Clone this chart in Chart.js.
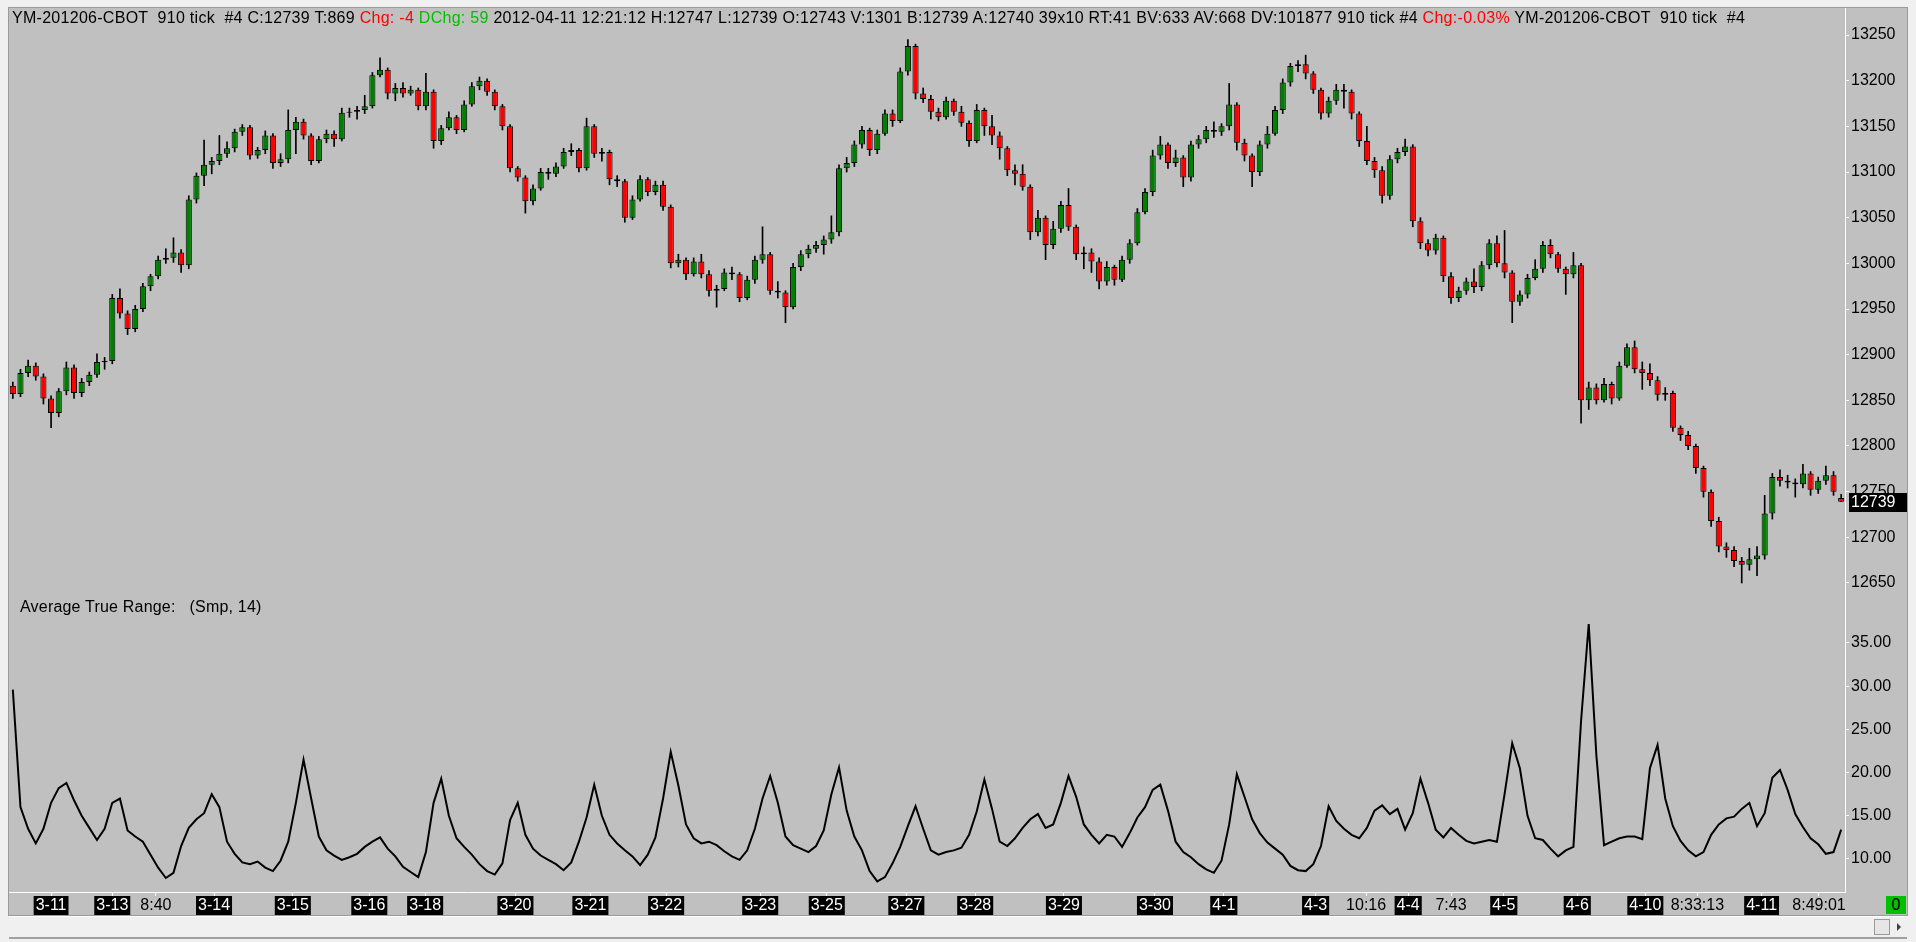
<!DOCTYPE html>
<html lang="en">
<head>
<meta charset="UTF-8">
<title>YM-201206-CBOT 910 tick</title>
<script src="https://cdn.jsdelivr.net/npm/chart.js"></script>
<style>
  html, body { margin: 0; padding: 0; width: 1916px; height: 942px; overflow: hidden; background: #f0f0f0; font-family: "Liberation Sans", Arial, sans-serif; }
  #frame { position: absolute; left: 8px; top: 7px; width: 1900px; height: 909px; border: 1px solid #9a9a9a; box-sizing: border-box; background: #c0c0c0; }
  #frame canvas { position: absolute; left: 0; }
  #priceChart { top: 0; }
  #atrChart { top: 598px; }
  .txt { position: absolute; font-size: 16px; line-height: 18px; color: #000; white-space: pre; z-index: 2; }
  #header { left: 3px; top: 1px; letter-spacing: 0.28px; }
  #atrLabel { left: 11px; top: 590px; letter-spacing: 0.2px; }
  .red { color: #ff0000; }
  .green { color: #00c000; }
  #zero { left: 1877px; top: 888px; width: 20px; height: 18px; background: #00c000; text-align: center; }
  #scroll { position: absolute; left: 9px; top: 916px; width: 1898px; height: 20px; background: #f0f0f0; border-top: 1px solid #fff; border-bottom: 2px solid #a0a0a0; }
  #thumb { position: absolute; left: 1865px; top: 2px; width: 14px; height: 14px; background: #e6e6e6; border: 1px solid #9a9a9a; }
  #arrow { position: absolute; left: 1888px; top: 6px; width: 0; height: 0; border-top: 4px solid transparent; border-bottom: 4px solid transparent; border-left: 4px solid #404040; }
</style>
</head>
<body>
<div id="frame">
  <div id="header" class="txt">YM-201206-CBOT  910 tick  #4 C:12739 T:869 <span class="red">Chg: -4</span> <span class="green">DChg: 59</span> 2012-04-11 12:21:12 H:12747 L:12739 O:12743 V:1301 B:12739 A:12740 39x10 RT:41 BV:633 AV:668 DV:101877 910 tick #4 <span class="red">Chg:-0.03%</span> YM-201206-CBOT  910 tick  #4</div>
  <div id="atrLabel" class="txt">Average True Range:   (Smp, 14)</div>
  <canvas id="priceChart" width="1898" height="598"></canvas>
  <canvas id="atrChart" width="1898" height="309"></canvas>
  <div id="zero" class="txt">0</div>
</div>
<div id="scroll"><div id="thumb"></div><div id="arrow"></div></div>

<script>
// 910 tick bars, oldest first
const open = [
12866,12857,12880,12888,12876,12852,12836,12860,12886,12858,
12870,12878,12892,12893,12962,12945,12928,12950,12975,12986,
13004,13006,13012,12998,13070,13096,13108,13112,13120,13126,
13144,13149,13118,13124,13140,13110,13114,13146,13155,13140,
13112,13136,13142,13136,13165,13166,13168,13172,13206,13212,
13186,13192,13186,13190,13172,13188,13134,13148,13160,13146,
13174,13194,13200,13188,13172,13150,13104,13094,13068,13082,
13100,13098,13106,13122,13124,13104,13150,13120,13122,13092,
13090,13050,13070,13092,13078,13086,13062,13000,13004,12988,
13002,12988,12970,12972,12990,12988,12962,12982,13004,13010,
12970,12968,12952,12996,13010,13016,13020,13026,13034,13104,
13110,13130,13146,13124,13142,13164,13156,13210,13238,13186,
13180,13166,13160,13178,13166,13154,13134,13168,13150,13140,
13126,13102,13098,13084,13034,13050,13020,13038,13064,13040,
13010,13012,13002,12980,12996,12982,13004,13022,13056,13078,
13118,13130,13110,13116,13094,13130,13136,13146,13144,13150,
13174,13132,13118,13100,13130,13142,13168,13198,13216,13218,
13208,13190,13164,13178,13190,13188,13164,13134,13112,13102,
13074,13114,13122,13128,13046,13022,13014,13028,12986,12962,
12970,12980,12974,12998,13022,13000,12990,12958,12966,12984,
12994,13020,13010,12994,12988,12998,12850,12864,12850,12868,
12852,12888,12908,12884,12880,12872,12856,12858,12820,12812,
12800,12776,12750,12718,12690,12686,12674,12670,12676,12680,
12726,12766,12762,12760,12758,12770,12752,12762,12768,12743
];
const high = [
12870,12884,12894,12891,12879,12855,12863,12892,12889,12874,
12881,12901,12897,12966,12972,12948,12954,12978,12988,13008,
13016,13028,13015,13074,13099,13135,13116,13140,13133,13147,
13152,13151,13127,13145,13142,13120,13168,13160,13158,13142,
13139,13146,13145,13170,13170,13172,13184,13209,13225,13214,
13197,13198,13194,13192,13208,13190,13151,13166,13162,13178,
13198,13204,13202,13190,13174,13152,13106,13096,13086,13104,
13104,13110,13126,13131,13126,13159,13152,13126,13124,13096,
13092,13074,13096,13094,13090,13090,13064,13010,13006,13006,
13010,12992,12976,12994,12996,12990,12986,13008,13040,13012,
12980,12970,13000,13014,13020,13024,13030,13052,13108,13116,
13134,13150,13148,13146,13168,13168,13214,13245,13240,13192,
13184,13170,13182,13180,13172,13156,13174,13170,13162,13144,
13128,13108,13108,13086,13058,13052,13046,13068,13082,13042,
13018,13016,13006,13002,12998,13008,13026,13060,13082,13124,
13139,13132,13124,13118,13134,13140,13150,13155,13153,13197,
13176,13136,13120,13134,13150,13172,13202,13219,13222,13228,
13210,13192,13182,13196,13196,13190,13166,13150,13116,13106,
13118,13126,13136,13130,13050,13026,13032,13030,12990,12974,
12984,12994,13002,13026,13030,13036,12992,12970,12988,13004,
13024,13026,13012,12996,13012,13000,12870,12868,12874,12870,
12892,12912,12915,12892,12890,12876,12864,12860,12822,12816,
12802,12778,12752,12722,12694,12690,12678,12688,12690,12746,
12770,12774,12768,12764,12780,12772,12766,12778,12772,12747
];
const low = [
12852,12854,12876,12872,12846,12820,12832,12856,12852,12854,
12866,12875,12884,12890,12940,12922,12925,12947,12970,12983,
13000,13001,12990,12994,13066,13085,13098,13108,13116,13122,
13140,13114,13115,13120,13104,13106,13110,13120,13136,13108,
13110,13132,13128,13134,13160,13158,13164,13170,13204,13180,
13178,13182,13184,13168,13168,13126,13130,13146,13142,13144,
13172,13190,13184,13168,13146,13100,13090,13055,13064,13080,
13092,13095,13104,13118,13100,13102,13116,13112,13086,13084,
13045,13048,13068,13074,13075,13058,12995,12996,12982,12986,
12984,12964,12952,12970,12982,12958,12960,12978,13000,12966,
12962,12935,12950,12992,13006,13012,13010,13022,13030,13100,
13106,13126,13118,13120,13140,13150,13154,13206,13180,13176,
13158,13156,13158,13162,13150,13128,13132,13140,13130,13114,
13096,13086,13080,13026,13030,13004,13016,13034,13036,13004,
12994,12990,12972,12976,12976,12980,13000,13020,13054,13074,
13114,13104,13106,13084,13090,13126,13132,13138,13140,13146,
13124,13112,13084,13096,13126,13140,13164,13194,13210,13202,
13186,13158,13160,13174,13170,13158,13128,13108,13094,13066,
13070,13110,13118,13040,13016,13008,13010,12980,12956,12958,
12966,12968,12970,12994,12996,12984,12935,12954,12962,12982,
12990,13006,12990,12966,12984,12825,12840,12846,12848,12846,
12850,12886,12880,12862,12866,12850,12850,12816,12806,12796,
12770,12744,12712,12684,12678,12668,12650,12664,12658,12676,
12720,12756,12754,12744,12754,12746,12748,12758,12746,12739
];
const close = [
12857,12880,12888,12876,12852,12836,12860,12886,12858,12870,
12878,12892,12893,12962,12945,12928,12950,12975,12986,13004,
13006,13012,12998,13070,13096,13108,13112,13120,13126,13144,
13149,13118,13124,13140,13110,13114,13146,13155,13140,13112,
13136,13142,13136,13165,13166,13168,13172,13206,13212,13186,
13192,13186,13190,13172,13188,13134,13148,13160,13146,13174,
13194,13200,13188,13172,13150,13104,13094,13068,13082,13100,
13098,13106,13122,13124,13104,13150,13120,13122,13092,13090,
13050,13070,13092,13078,13086,13062,13000,13004,12988,13002,
12988,12970,12972,12990,12988,12962,12982,13004,13010,12970,
12968,12952,12996,13010,13016,13020,13026,13034,13104,13110,
13130,13146,13124,13142,13164,13156,13210,13238,13186,13180,
13166,13160,13178,13166,13154,13134,13168,13150,13140,13126,
13102,13098,13084,13034,13050,13020,13038,13064,13040,13010,
13012,13002,12980,12996,12982,13004,13022,13056,13078,13118,
13130,13110,13116,13094,13130,13136,13146,13144,13150,13174,
13132,13118,13100,13130,13142,13168,13198,13216,13218,13208,
13190,13164,13178,13190,13188,13164,13134,13112,13102,13074,
13114,13122,13128,13046,13022,13014,13028,12986,12962,12970,
12980,12974,12998,13022,13000,12990,12958,12966,12984,12994,
13020,13010,12994,12988,12998,12850,12864,12850,12868,12852,
12888,12908,12884,12880,12872,12856,12858,12820,12812,12800,
12776,12750,12718,12690,12686,12674,12670,12676,12680,12726,
12766,12762,12760,12758,12770,12752,12762,12768,12750,12739
];
// Average True Range (Smp, 14), one value per bar
const atr = [
29.6,16.0,13.5,11.8,13.5,16.5,18.2,18.8,16.8,15.0,
13.6,12.2,13.5,16.5,17.0,13.3,12.6,12.0,10.5,9.0,
7.8,8.4,11.5,13.6,14.6,15.3,17.5,16.0,12.0,10.6,
9.6,9.4,9.7,9.0,8.6,9.8,12.0,16.5,21.5,17.0,
12.6,11.0,10.4,9.9,10.2,10.6,11.4,12.0,12.5,11.2,
10.3,9.1,8.5,7.9,10.8,16.5,19.3,15.0,12.4,11.4,
10.5,9.4,8.6,8.2,9.5,14.5,16.5,12.8,11.2,10.4,
9.9,9.4,8.7,9.6,12.0,14.8,18.6,15.0,12.8,11.8,
11.0,10.3,9.3,10.5,12.5,17.0,22.4,18.5,14.0,12.4,
11.8,12.0,11.6,10.9,10.3,9.9,11.0,13.5,17.0,19.6,
16.5,12.6,11.6,11.2,10.8,11.5,13.3,17.5,20.6,15.6,
12.6,11.0,8.6,7.4,7.9,9.5,11.4,13.8,16.1,13.5,
11.0,10.5,10.8,11.0,11.3,12.8,15.5,19.2,15.8,12.0,
11.5,12.4,13.6,14.6,15.2,13.6,14.0,16.5,19.6,17.2,
14.0,12.8,11.8,12.8,12.6,11.4,13.0,14.8,16.0,18.0,
18.6,15.6,12.0,10.8,10.2,9.4,8.8,8.4,9.8,14.0,
19.8,17.2,14.6,13.0,11.9,11.2,10.5,9.2,8.7,8.6,
9.4,11.5,16.1,14.4,13.5,12.8,12.4,13.6,15.6,16.2,
15.2,15.8,13.4,15.3,19.3,16.5,13.4,12.5,13.6,12.8,
12.1,11.8,12.0,12.2,12.0,17.5,23.4,20.5,15.0,12.4,
12.2,11.2,10.3,11.0,11.4,26.0,37.2,22.0,11.6,12.0,
12.4,12.6,12.6,12.3,20.5,23.2,17.0,13.8,12.1,11.0,
10.3,10.8,12.8,14.0,14.7,14.9,15.8,16.5,13.8,15.3,
19.4,20.3,18.0,15.2,13.7,12.4,11.7,10.6,10.8,13.4
];
// tick labels
const priceTicks = [12650,12700,12750,12800,12850,12900,12950,13000,13050,13100,13150,13200,13250];
const atrTicks = [10,15,20,25,30,35];
const timeTickPos = [5.0,13.0,18.7,26.3,36.6,46.6,53.9,65.7,75.5,85.4,97.7,106.4,116.8,125.8,137.4,149.3,158.3,170.3,176.9,182.4,188.0,194.9,204.5,213.4,220.2,228.6,236.1];
const timeTickText = ['3-11','3-13','8:40','3-14','3-15','3-16','3-18','3-20','3-21','3-22','3-23','3-25','3-27','3-28','3-29','3-30','4-1','4-3','10:16','4-4','7:43','4-5','4-6','4-10','8:33:13','4-11','8:49:01'];

const FONT = '"Liberation Sans", Arial, sans-serif';
Chart.defaults.font.family = FONT;
Chart.defaults.font.size = 16;
Chart.defaults.color = '#000';

const n = close.length;
const isDate = t => t.indexOf('-') > 0;

// right hand scale shared by both panes; no label overhang padding so both panes butt together
function rightAxis(extra) {
  return Object.assign({
    position: 'right',
    afterFit: s => { s.width = 62; s.paddingTop = 0; s.paddingBottom = 0; },
    grid: { drawOnChartArea: false, color: '#fff', tickLength: 4 },
    border: { color: '#fff' }
  }, extra);
}

// black tag with the last price
const lastPriceTag = {
  id: 'lastPriceTag',
  afterDraw(chart) {
    const ctx = chart.ctx;
    const last = close[n - 1];
    const y = Math.round(chart.scales.y.getPixelForValue(last));
    const x = chart.chartArea.right + 4;
    ctx.save();
    ctx.fillStyle = '#000';
    ctx.fillRect(x, y - 9, chart.width - x, 19);
    ctx.fillStyle = '#fff';
    ctx.font = '16px ' + FONT;
    ctx.textBaseline = 'middle';
    ctx.fillText(String(last), x + 2, y + 1);
    ctx.restore();
  }
};

const priceChart = new Chart(document.getElementById('priceChart'), {
  type: 'bar',
  data: {
    datasets: [
      {
        label: 'body',
        data: close.map((c, i) => ({ x: i, y: [open[i], c] })),
        backgroundColor: close.map((c, i) => c >= open[i] ? '#008000' : '#ff0000'),
        borderColor: '#000',
        borderWidth: 1,
        borderSkipped: false,
        grouped: false,
        barPercentage: 0.8,
        categoryPercentage: 1
      },
      {
        label: 'wick',
        data: close.map((c, i) => ({ x: i, y: [low[i], high[i]] })),
        backgroundColor: '#000',
        borderWidth: 0,
        barThickness: 1,
        grouped: false
      }
    ]
  },
  options: {
    responsive: false,
    animation: false,
    events: [],
    layout: { padding: 0 },
    plugins: { legend: { display: false }, tooltip: { enabled: false } },
    scales: {
      x: { type: 'linear', display: false, min: -0.5, max: n - 0.5, offset: false },
      y: rightAxis({
        min: 12624.8,
        max: 13279.6,
        afterBuildTicks: a => { a.ticks = priceTicks.map(v => ({ value: v })); },
        ticks: { padding: 2, color: '#000', callback: v => String(v) }
      })
    }
  },
  plugins: [lastPriceTag]
});

const atrChart = new Chart(document.getElementById('atrChart'), {
  type: 'line',
  data: {
    datasets: [{
      label: 'ATR',
      data: atr.map((v, i) => ({ x: i, y: v })),
      borderColor: '#000',
      borderWidth: 2,
      pointRadius: 0,
      tension: 0,
      fill: false
    }]
  },
  options: {
    responsive: false,
    animation: false,
    events: [],
    layout: { padding: 0 },
    plugins: { legend: { display: false }, tooltip: { enabled: false } },
    scales: {
      x: {
        type: 'linear',
        min: -0.5,
        max: n - 0.5,
        offset: false,
        afterBuildTicks: a => { a.ticks = timeTickPos.map(v => ({ value: v })); },
        afterFit: s => { s.height = 23; s.paddingLeft = 0; s.paddingRight = 0; },
        grid: { drawOnChartArea: false, color: '#fff', tickLength: 4 },
        border: { color: '#fff' },
        ticks: {
          autoSkip: false,
          maxRotation: 0,
          padding: 0,
          callback: (v, i) => timeTickText[i],
          color: c => isDate(timeTickText[c.index]) ? '#fff' : '#000',
          showLabelBackdrop: c => isDate(timeTickText[c.index]),
          backdropColor: '#000',
          backdropPadding: { left: 2, right: 2, top: 0, bottom: 0 }
        }
      },
      y: rightAxis({
        min: 6.18,
        max: 39.28,
        afterBuildTicks: a => { a.ticks = atrTicks.map(v => ({ value: v })); },
        ticks: { padding: 2, color: '#000', callback: v => v.toFixed(2) }
      })
    }
  }
});
</script>
</body>
</html>
